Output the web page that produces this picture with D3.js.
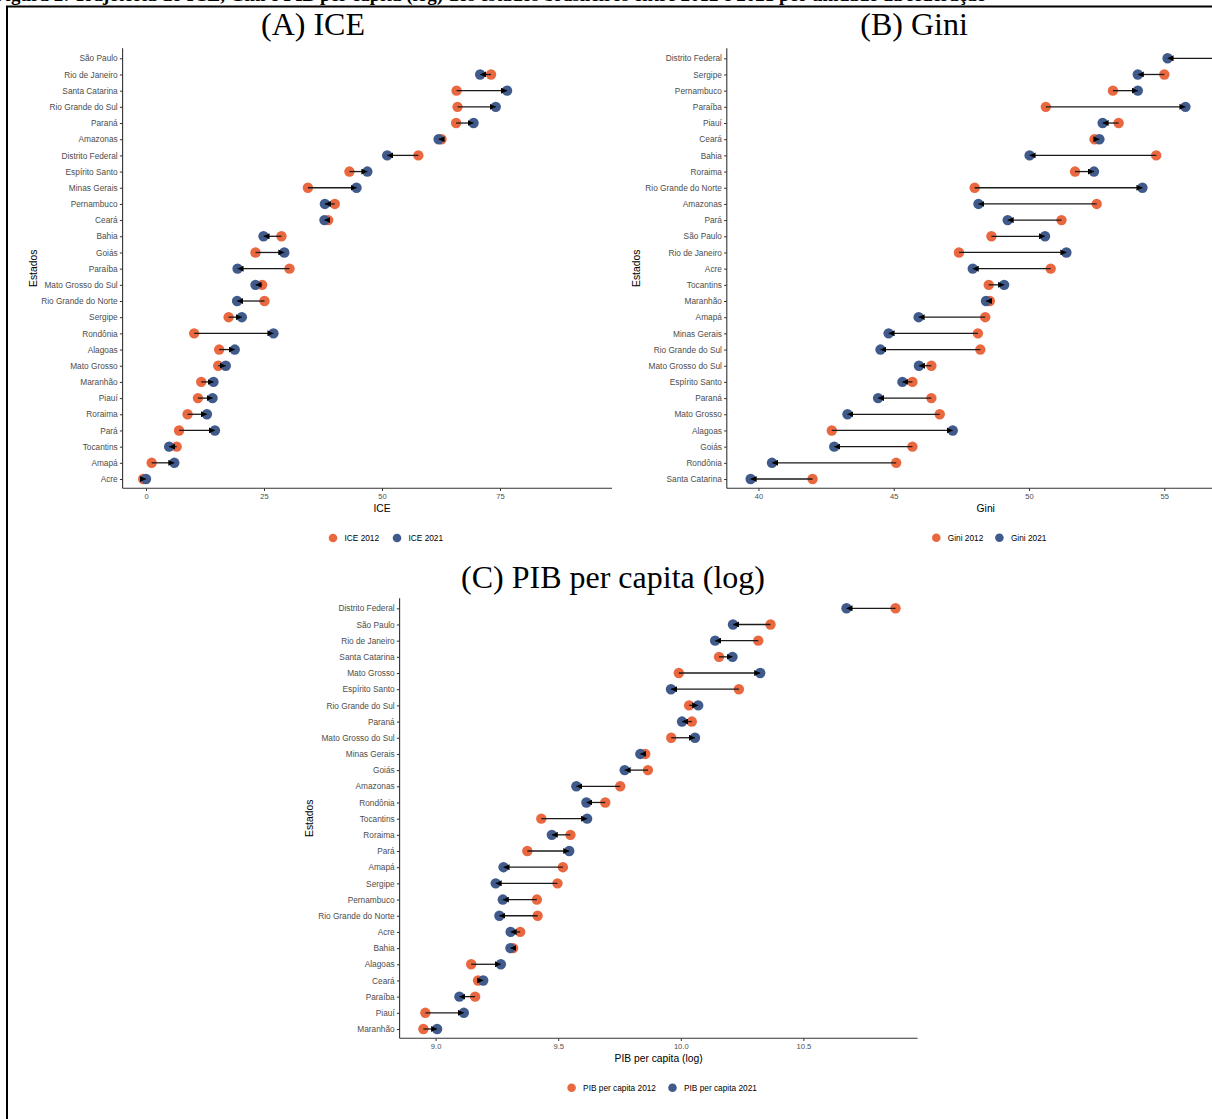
<!DOCTYPE html>
<html><head><meta charset="utf-8">
<script src="https://cdn.jsdelivr.net/npm/d3@7"></script>
<style>body{margin:0;background:#fff;} svg{display:block;}</style>
</head><body><svg id="c" width="1212" height="1119"></svg>
<script>
// ---------- DATA ----------
const iceStates = ["São Paulo","Rio de Janeiro","Santa Catarina","Rio Grande do Sul","Paraná","Amazonas","Distrito Federal","Espírito Santo","Minas Gerais","Pernambuco","Ceará","Bahia","Goiás","Paraíba","Mato Grosso do Sul","Rio Grande do Norte","Sergipe","Rondônia","Alagoas","Mato Grosso","Maranhão","Piauí","Roraima","Pará","Tocantins","Amapá","Acre"];
const ice2012 = [100, 73.1, 65.8, 66.0, 65.7, 62.6, 57.7, 43.1, 34.3, 40.0, 38.6, 28.7, 23.2, 30.4, 24.6, 25.1, 17.5, 10.2, 15.5, 15.3, 11.7, 11.0, 8.8, 7.0, 6.5, 1.2, -0.6];
const ice2021 = [100, 70.8, 76.5, 74.1, 69.4, 62.0, 51.1, 46.9, 44.6, 37.9, 37.8, 24.9, 29.3, 19.4, 23.2, 19.3, 20.3, 27.0, 18.8, 16.9, 14.3, 14.1, 12.9, 14.6, 4.9, 6.0, 0.0];
const iceTicks = [0, 25, 50, 75, 100];

const giniStates = ["Distrito Federal","Sergipe","Pernambuco","Paraíba","Piauí","Ceará","Bahia","Roraima","Rio Grande do Norte","Amazonas","Pará","São Paulo","Rio de Janeiro","Acre","Tocantins","Maranhão","Amapá","Minas Gerais","Rio Grande do Sul","Mato Grosso do Sul","Espírito Santo","Paraná","Mato Grosso","Alagoas","Goiás","Rondônia","Santa Catarina"];
const gini2012 = [57.1, 55.0, 53.1, 50.62, 53.31, 52.42, 54.7, 51.7, 47.99, 52.5, 51.2, 48.61, 47.41, 50.8, 48.51, 48.55, 48.38, 48.11, 48.2, 46.39, 45.69, 46.39, 46.7, 42.71, 45.69, 45.09, 42.0];
const gini2021 = [55.12, 54.02, 54.02, 55.78, 52.72, 52.6, 50.02, 52.4, 54.19, 48.13, 49.21, 50.59, 51.38, 47.92, 49.08, 48.41, 45.92, 44.81, 44.51, 45.93, 45.32, 44.42, 43.29, 47.18, 42.8, 40.5, 39.71];
const giniTicks = [40, 45, 50, 55];

const pibStates = ["Distrito Federal","São Paulo","Rio de Janeiro","Santa Catarina","Mato Grosso","Espírito Santo","Rio Grande do Sul","Paraná","Mato Grosso do Sul","Minas Gerais","Goiás","Amazonas","Rondônia","Tocantins","Roraima","Pará","Amapá","Sergipe","Pernambuco","Rio Grande do Norte","Acre","Bahia","Alagoas","Ceará","Paraíba","Piauí","Maranhão"];
const pib2012 = [10.876, 10.366, 10.316, 10.156, 9.992, 10.237, 10.034, 10.045, 9.961, 9.855, 9.866, 9.753, 9.692, 9.431, 9.550, 9.374, 9.519, 9.497, 9.413, 9.416, 9.345, 9.316, 9.145, 9.173, 9.161, 8.958, 8.950];
const pib2021 = [10.676, 10.213, 10.140, 10.211, 10.324, 9.960, 10.071, 10.005, 10.058, 9.835, 9.771, 9.574, 9.615, 9.618, 9.474, 9.545, 9.277, 9.245, 9.274, 9.260, 9.306, 9.305, 9.266, 9.194, 9.097, 9.115, 9.006];
const pibTicks = [9.0, 9.5, 10.0, 10.5];

// ---------- STYLE ----------
const C12 = "#EA6840", C21 = "#405B8B";
const SANS = "'Liberation Sans', Arial, Helvetica, sans-serif";
const SERIF = "'Liberation Serif', 'Times New Roman', serif";

const svg = d3.select("#c");
const defs = svg.append("defs");
defs.append("marker").attr("id","arr").attr("viewBox","0 0 10 10")
  .attr("refX",10).attr("refY",5).attr("markerWidth",6).attr("markerHeight",6)
  .attr("markerUnits","userSpaceOnUse").attr("orient","auto")
  .append("path").attr("d","M0,0L10,5L0,10Z").attr("fill","#000");
defs.append("clipPath").attr("id","clipA").append("rect")
  .attr("x",0).attr("y",0).attr("width",612).attr("height",1119);

// header (cut off at the top edge in the source) and frame
svg.append("text").attr("x",-6).attr("y",0.5)
  .attr("font-family",SERIF).attr("font-weight","bold").attr("font-size",19)
  .text("Figura 2: Trajetória do ICE, Gini e PIB per capita (log) dos estados brasileiros entre 2012 e 2021 por unidade da federação");
svg.append("line").attr("x1",6).attr("x2",1212).attr("y1",6.5).attr("y2",6.5).attr("stroke","#000").attr("stroke-width",2);
svg.append("line").attr("x1",7).attr("x2",7).attr("y1",6).attr("y2",1119).attr("stroke","#000").attr("stroke-width",2);

function panel(cfg){
  const g = svg.append("g");
  if (cfg.clip) g.attr("clip-path", cfg.clip);
  const x = d3.scaleLinear().domain(cfg.xDomain).range(cfg.xRange);
  const y = d3.scalePoint().domain(cfg.states).range([cfg.top + 10, cfg.bottom - 9.3]);
  const x0 = cfg.xRange[0];

  g.append("text").attr("x",cfg.titleX).attr("y",cfg.titleY).attr("text-anchor","middle")
    .attr("font-family",SERIF).attr("font-size",32).attr("fill","#000").text(cfg.title);

  const ya = g.append("g").attr("transform",`translate(${x0},0)`)
    .call(d3.axisLeft(y).tickSize(2.7).tickSizeOuter(0).tickPadding(2.2));
  ya.select(".domain").remove();
  ya.selectAll(".tick line").attr("stroke","#333").attr("stroke-width",1);
  ya.selectAll(".tick text").attr("font-family",SANS).attr("font-size",8.3).attr("fill","#4D4D4D");
  g.append("line").attr("x1",x0).attr("x2",x0).attr("y1",cfg.top).attr("y2",cfg.bottom)
    .attr("stroke","#333").attr("stroke-width",1.1);

  const xa = g.append("g").attr("transform",`translate(0,${cfg.bottom})`)
    .call(d3.axisBottom(x).tickValues(cfg.ticks).tickFormat(cfg.fmt).tickSize(2.7).tickSizeOuter(0).tickPadding(2.5));
  xa.select(".domain").remove();
  xa.selectAll(".tick line").attr("stroke","#333").attr("stroke-width",1);
  xa.selectAll(".tick text").attr("font-family",SANS).attr("font-size",7.6).attr("fill","#4D4D4D");
  g.append("line").attr("x1",x0).attr("x2",cfg.xRange[1]).attr("y1",cfg.bottom).attr("y2",cfg.bottom)
    .attr("stroke","#333").attr("stroke-width",1.1);

  g.append("text").attr("x",(cfg.xRange[0]+cfg.xRange[1])/2).attr("y",cfg.bottom+23.4)
    .attr("text-anchor","middle").attr("font-family",SANS).attr("font-size",10.3).attr("fill","#000").text(cfg.xTitle);
  g.append("text").attr("transform",`translate(${cfg.yTitleX},${(cfg.top+cfg.bottom)/2}) rotate(-90)`)
    .attr("text-anchor","middle").attr("font-family",SANS).attr("font-size",10.3).attr("fill","#000").text("Estados");

  const rows = cfg.states.map((s,i)=>({s, a:cfg.v12[i], b:cfg.v21[i]}));
  g.append("g").selectAll("circle").data(rows).join("circle")
    .attr("cx",d=>x(d.a)).attr("cy",d=>y(d.s)).attr("r",5.2).attr("fill",C12);
  g.append("g").selectAll("circle").data(rows).join("circle")
    .attr("cx",d=>x(d.b)).attr("cy",d=>y(d.s)).attr("r",5.2).attr("fill",C21);
  g.append("g").selectAll("line").data(rows).join("line")
    .attr("x1",d=>x(d.a)).attr("x2",d=>x(d.b)).attr("y1",d=>y(d.s)).attr("y2",d=>y(d.s))
    .attr("stroke","#1a1a1a").attr("stroke-width",1.3).attr("marker-end","url(#arr)");

  const L = cfg.legend;
  [[L.x1, C12, cfg.lab12],[L.x2, C21, cfg.lab21]].forEach(([lx,col,lab])=>{
    g.append("circle").attr("cx",lx).attr("cy",L.y).attr("r",4.3).attr("fill",col);
    g.append("text").attr("x",lx+11.5).attr("y",L.y).attr("dy","0.35em")
      .attr("font-family",SANS).attr("font-size",8.3).attr("fill","#000").text(lab);
  });
}

panel({states:iceStates, v12:ice2012, v21:ice2021, xDomain:[-4.96,105], xRange:[122.6,641.6],
  top:48.3, bottom:488.3, ticks:iceTicks, fmt:d3.format("d"), xTitle:"ICE", yTitleX:36.5,
  title:"(A) ICE", titleX:313, titleY:35, clip:"url(#clipA)",
  legend:{x1:333, x2:397, y:538}, lab12:"ICE 2012", lab21:"ICE 2021"});

panel({states:giniStates, v12:gini2012, v21:gini2021, xDomain:[38.83,57.97], xRange:[726.8,1244.7],
  top:48.3, bottom:488.3, ticks:giniTicks, fmt:d3.format("d"), xTitle:"Gini", yTitleX:639.6,
  title:"(B) Gini", titleX:914, titleY:35,
  legend:{x1:936.3, x2:999.4, y:537.7}, lab12:"Gini 2012", lab21:"Gini 2021"});

panel({states:pibStates, v12:pib2012, v21:pib2021, xDomain:[8.853,10.966], xRange:[399.6,917.6],
  top:598.3, bottom:1038.3, ticks:pibTicks, fmt:d3.format(".1f"), xTitle:"PIB per capita (log)", yTitleX:312.6,
  title:"(C) PIB per capita (log)", titleX:613, titleY:588,
  legend:{x1:571.6, x2:672.5, y:1087.7}, lab12:"PIB per capita 2012", lab21:"PIB per capita 2021"});
</script>
</body></html>
